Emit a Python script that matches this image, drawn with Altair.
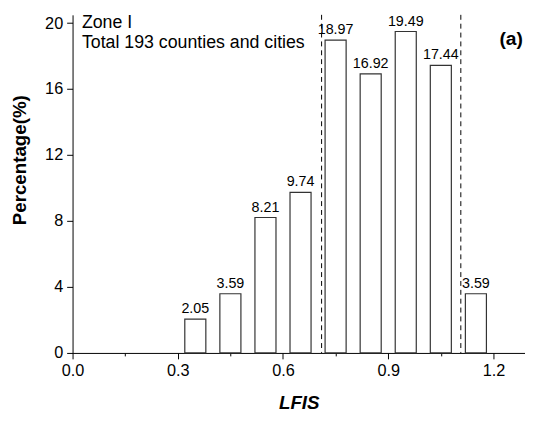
import altair as alt
import pandas as pd

# ---- data ----
lfis_center = [0.35, 0.45, 0.55, 0.65, 0.75, 0.85, 0.95, 1.05, 1.15]
percentage = [2.05, 3.59, 8.21, 9.74, 18.97, 16.92, 19.49, 17.44, 3.59]
zone_bounds = [0.71, 1.107]
x_ticks = [0.0, 0.15, 0.3, 0.45, 0.6, 0.75, 0.9, 1.05, 1.2]
y_ticks = [0, 2, 4, 6, 8, 10, 12, 14, 16, 18, 20]
note_lines = ["Zone I", "Total 193 counties and cities"]
panel_tag = "(a)"

FONT = "Liberation Sans"

df = pd.DataFrame({"center": lfis_center, "pct": percentage})
bounds = pd.DataFrame({"b": zone_bounds})
one = pd.DataFrame({"k": [0]})

xscale = alt.Scale(domain=[0, 1.29], nice=False, zero=False)
yscale = alt.Scale(domain=[0, 20.5], nice=False)

xaxis = alt.Axis(
    values=x_ticks,
    labelExpr="round(datum.value*100) % 30 == 0 ? format(datum.value, '.1f') : ''",
    tickSize={"condition": {"test": "round(datum.value*100) % 30 != 0", "value": 3}, "value": 6},
    labelPadding=4,
    labelFontSize=16.5,
    labelFlush=False,
    titleFontSize=19,
    titleFontWeight="bold",
    titleFontStyle="italic",
    titleY=50,
    titleBaseline="middle",
    grid=False,
)
yaxis = alt.Axis(
    values=y_ticks,
    labelExpr="datum.value % 4 == 0 ? format(datum.value, 'd') : ''",
    tickSize={"condition": {"test": "datum.value % 4 != 0", "value": 3}, "value": 6},
    labelPadding=4,
    labelFontSize=16.5,
    titleFontSize=19,
    titleFontWeight="bold",
    titleX=-54,
    titleY=147,
    titleAlign="center",
    titleBaseline="middle",
    grid=False,
)

base = alt.Chart(df).transform_calculate(
    x0="datum.center - 0.03", x1="datum.center + 0.03"
)

bars = base.mark_bar(fill="white", stroke="#333333", strokeWidth=1.2).encode(
    x=alt.X("x0:Q", scale=xscale, axis=xaxis, title="LFIS"),
    x2="x1:Q",
    y=alt.Y("pct:Q", scale=yscale, axis=yaxis, title="Percentage(%)"),
    y2=alt.datum(0),
)

labels = base.mark_text(baseline="bottom", dy=-3, fontSize=14.5, font=FONT, color="black").encode(
    x="center:Q",
    y="pct:Q",
    text=alt.Text("pct:Q", format=".2f"),
)

rules = alt.Chart(bounds).mark_rule(strokeDash=[5, 4], color="black", strokeWidth=1).encode(
    x="b:Q"
)

note = alt.Chart(one).mark_text(
    text=note_lines, align="left", baseline="alphabetic", fontSize=18, font=FONT,
    lineHeight=21, color="black",
).encode(x=alt.value(9.5), y=alt.value(13))

tag = alt.Chart(one).mark_text(
    text=panel_tag, align="center", baseline="middle", fontSize=19.5, fontWeight="bold",
    font=FONT, color="black",
).encode(x=alt.value(445), y=alt.value(25))

chart = (
    alt.layer(bars, rules, labels, note, tag)
    .properties(
        width=459,
        height=343,
        padding={"left": 65.5, "top": 4, "right": 0, "bottom": 58},
        autosize=alt.AutoSizeParams(type="none"),
    )
    .configure_view(stroke=None)
    .configure_axis(
        labelFont=FONT,
        titleFont=FONT,
        labelColor="black",
        titleColor="black",
        domainColor="black",
        tickColor="black",
        domainWidth=1,
        tickWidth=1,
    )
)

chart.save("out.html", embed_options={"renderer": "svg", "actions": False})
